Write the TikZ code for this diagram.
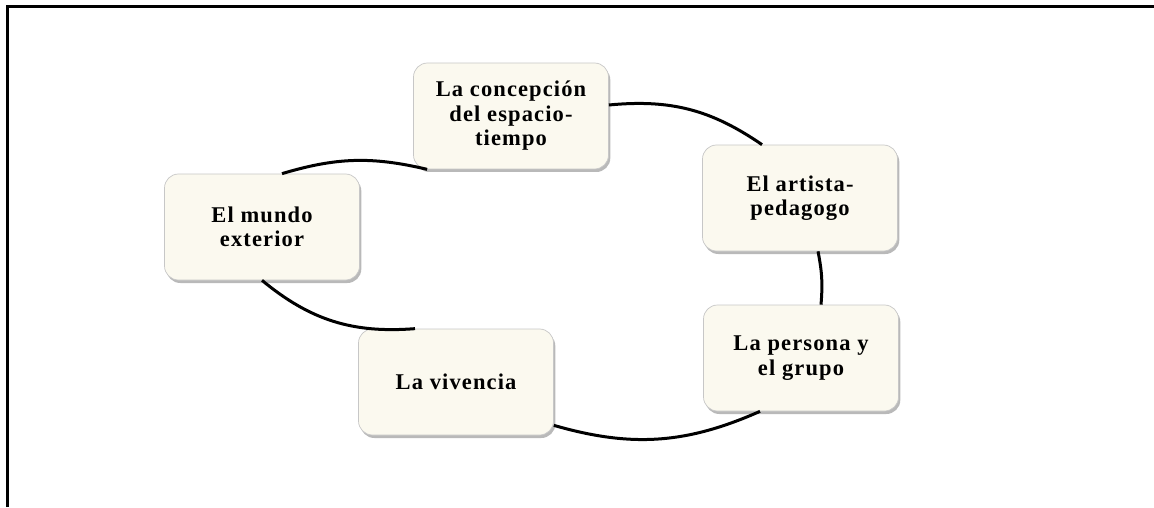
\documentclass[tikz,border=0pt]{standalone}
\usepackage{fontspec}
\setmainfont{Liberation Serif}
\newfontfamily\cajafont[LetterSpace=5]{Liberation Serif}
\usetikzlibrary{shadows}
\definecolor{crema}{HTML}{FBF9EF}

\begin{document}
\begin{tikzpicture}[x=1pt,y=1pt,
  caja/.style={draw=black!22,line width=0.7pt,fill=crema,rounded corners=14pt,
    minimum width=195pt,minimum height=106pt,align=center,
    font={\cajafont\fontsize{22.5}{24.5}\selectfont\bfseries},
    drop shadow={shadow xshift=1.8pt,shadow yshift=-3pt,fill=black!50,opacity=0.55}},
  arco/.style={line width=3pt,black}]
\useasboundingbox (0,0) rectangle (1154,507);
% Rahmen links und oben
\draw[line width=3pt] (7.5,0) -- (7.5,500.5) -- (1154,500.5);
% Kaesten im Kreis
\node[caja] (con) at (511,391) {La concepción\\del espacio-\\tiempo};
\node[caja] (art) at (800,309) {El artista-\\pedagogo};
\node[caja] (per) at (801,149) {La persona y\\el grupo};
\node[caja] (viv) at (456,125) {La vivencia};
\node[caja] (mun) at (262,280) {El mundo\\exterior};
% Boegen
\draw[arco] ([xshift=20pt]mun.north) to[bend left=15] ([xshift=14pt]con.south west);
\draw[arco] ([yshift=11pt]con.east) to[bend left=20] ([xshift=-38pt]art.north);
\draw[arco] ([xshift=18pt]art.south) to[bend left=8] ([xshift=20pt]per.north);
\draw[arco] ([xshift=-41pt]per.south) to[bend left=20] ([yshift=10pt]viv.south east);
\draw[arco] ([xshift=-41pt]viv.north) to[bend left=22] (mun.south);
\end{tikzpicture}
\end{document}
